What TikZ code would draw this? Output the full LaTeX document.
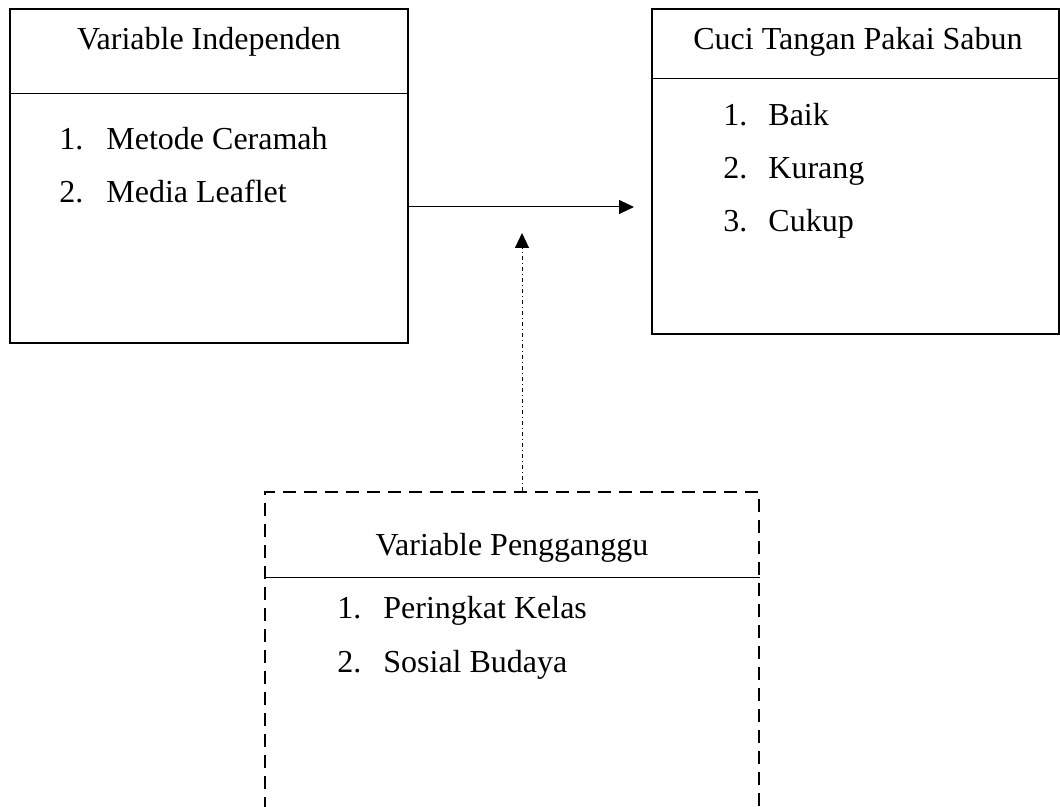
\documentclass[tikz,border=0pt]{standalone}
\usepackage{fontspec}
\setmainfont{Liberation Serif}
\usetikzlibrary{arrows.meta}

\tikzset{
  box/.style={draw, line width=1pt, rectangle, inner sep=0pt},
  dashbox/.style={box, dash pattern=on 6.5pt off 4pt},
  ttl/.style={anchor=base, inner sep=0pt},
  txt/.style={anchor=base west, inner sep=0pt},
  link/.style={line width=0.5pt, -{Triangle[length=7.5pt,width=7pt]}},
}

\begin{document}
\begin{tikzpicture}[x=0.5pt, y=-0.5pt, font=\fontsize{16}{19}\selectfont]
        \clip (0,0) rectangle (1060,807);

        % boxes
        \node[box, minimum width=199pt, minimum height=167pt] (indep) at (209,176) {};
        \node[box, minimum width=203.5pt, minimum height=162.5pt] (cuci) at (855.5,171.5) {};
        \node[dashbox, minimum width=247pt, minimum height=162pt] (ganggu) at (512,654) {};

        \draw[line width=0.5pt] (indep.west |- 0,94) -- (indep.east |- 0,94);
        \draw[line width=0.5pt] (cuci.west |- 0,79) -- (cuci.east |- 0,79);
        \draw[line width=0.5pt] (ganggu.west |- 0,577) -- (ganggu.east |- 0,577);

        % titles
        \node[ttl] (tIndep) at (209,50) {Variable Independen};
        \node[ttl] (tCuci) at (858,50) {Cuci Tangan Pakai Sabun};
        \node[ttl] (tGanggu) at (512,555) {Variable Pengganggu};

        % items
        \node[txt] (n1) at (59,150) {1.};
        \node[txt] (i1) at (106,150) {Metode Ceramah};
        \node[txt] (n2) at (59,203) {2.};
        \node[txt] (i2) at (106,203) {Media Leaflet};

        \node[txt] (n3) at (723,126) {1.};
        \node[txt] (i3) at (768,126) {Baik};
        \node[txt] (n4) at (723,179) {2.};
        \node[txt] (i4) at (768,179) {Kurang};
        \node[txt] (n5) at (723,232) {3.};
        \node[txt] (i5) at (768,232) {Cukup};

        \node[txt] (n6) at (337,618) {1.};
        \node[txt] (i6) at (383,618) {Peringkat Kelas};
        \node[txt] (n7) at (337,672) {2.};
        \node[txt] (i7) at (383,672) {Sosial Budaya};

        % arrows
        \coordinate (tipR) at (634,207);
        \coordinate (tipU) at (522,233);
        \draw[link] (indep.east |- tipR) -- (tipR);
        \draw[link, dash pattern=on 2pt off 1.5pt on 0.5pt off 1.5pt] (ganggu.north -| tipU) -- (tipU);
    \end{tikzpicture}
\end{document}
